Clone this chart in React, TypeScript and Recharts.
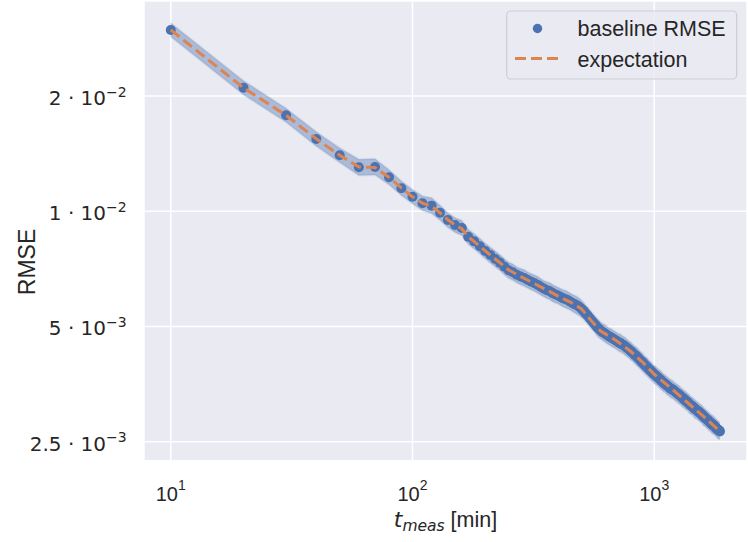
import { ComposedChart, Area, Scatter, Line, XAxis, YAxis, CartesianGrid, Label } from 'recharts';

// measurement times [min]
const times = [
  10, 20, 30, 40, 50, 60, 70, 80, 90, 100,
  110, 120, 130, 140, 150, 160, 170, 180, 190, 200,
  210, 220, 230, 240, 250, 260, 270, 280, 290, 300,
  310, 320, 330, 340, 350, 360, 370, 380, 390, 400,
  410, 420, 430, 440, 450, 460, 470, 480, 490, 500,
  510, 520, 530, 540, 550, 560, 570, 580, 590, 600,
  610, 620, 630, 640, 650, 660, 670, 680, 690, 700,
  710, 720, 730, 740, 750, 760, 770, 780, 790, 800,
  810, 820, 830, 840, 850, 860, 870, 880, 890, 900,
  910, 920, 930, 940, 950, 960, 970, 980, 990, 1000,
  1010, 1020, 1030, 1040, 1050, 1060, 1070, 1080, 1090, 1100,
  1110, 1120, 1130, 1140, 1150, 1160, 1170, 1180, 1190, 1200,
  1210, 1220, 1230, 1240, 1250, 1260, 1270, 1280, 1290, 1300,
  1310, 1320, 1330, 1340, 1350, 1360, 1370, 1380, 1390, 1400,
  1410, 1420, 1430, 1440, 1450, 1460, 1470, 1480, 1490, 1500,
  1510, 1520, 1530, 1540, 1550, 1560, 1570, 1580, 1590, 1600,
  1610, 1620, 1630, 1640, 1650, 1660, 1670, 1680, 1690, 1700,
  1710, 1720, 1730, 1740, 1750, 1760, 1770, 1780, 1790, 1800,
  1810, 1820, 1830, 1840, 1850, 1860, 1870,
];

const baselineRmse = [
  0.02975, 0.02102, 0.01781, 0.01544, 0.014, 0.01302, 0.01305, 0.01226, 0.01148, 0.01091,
  0.01049, 0.01034, 0.00991, 0.00948, 0.0092, 0.00904, 0.00857, 0.00834, 0.0081, 0.00787,
  0.00768, 0.0075, 0.00734, 0.00716, 0.00701, 0.00693, 0.00682, 0.00675, 0.00669, 0.00661,
  0.00654, 0.00648, 0.00642, 0.00634, 0.00627, 0.00622, 0.00618, 0.00611, 0.00606, 0.00602,
  0.00597, 0.00592, 0.00589, 0.00585, 0.0058, 0.00575, 0.00571, 0.00567, 0.00562, 0.00556,
  0.00549, 0.00541, 0.00534, 0.00526, 0.00519, 0.00512, 0.00505, 0.00498, 0.00493, 0.00488,
  0.00484, 0.00481, 0.00478, 0.00474, 0.00471, 0.00469, 0.00466, 0.00463, 0.00461, 0.00458,
  0.00455, 0.00453, 0.00451, 0.00448, 0.00446, 0.00443, 0.0044, 0.00437, 0.00434, 0.00431,
  0.00428, 0.00425, 0.00422, 0.00419, 0.00416, 0.00413, 0.0041, 0.00407, 0.00404, 0.00401,
  0.00398, 0.00395, 0.00393, 0.0039, 0.00387, 0.00385, 0.00382, 0.0038, 0.00377, 0.00375,
  0.00373, 0.00371, 0.00369, 0.00367, 0.00365, 0.00363, 0.00361, 0.00359, 0.00357, 0.00355,
  0.00354, 0.00352, 0.0035, 0.00349, 0.00347, 0.00346, 0.00344, 0.00343, 0.00342, 0.00341,
  0.00339, 0.00338, 0.00336, 0.00335, 0.00334, 0.00332, 0.00331, 0.0033, 0.00328, 0.00327,
  0.00325, 0.00324, 0.00323, 0.00321, 0.0032, 0.00319, 0.00318, 0.00316, 0.00315, 0.00313,
  0.00312, 0.00311, 0.0031, 0.00309, 0.00308, 0.00306, 0.00305, 0.00304, 0.00303, 0.00302,
  0.00301, 0.003, 0.00299, 0.00298, 0.00297, 0.00296, 0.00295, 0.00294, 0.00292, 0.00291,
  0.0029, 0.00289, 0.00288, 0.00287, 0.00286, 0.00285, 0.00284, 0.00283, 0.00282, 0.00281,
  0.0028, 0.00279, 0.00278, 0.00277, 0.00277, 0.00276, 0.00275, 0.00274, 0.00273, 0.00272,
  0.00271, 0.0027, 0.00269, 0.00268, 0.00268, 0.00267, 0.00266,
];

// relative half-width of the shaded spread around each point
const bandSpread = [
  0.042, 0.043, 0.043, 0.044, 0.045, 0.05, 0.05, 0.046, 0.044, 0.044,
  0.045, 0.048, 0.046, 0.045, 0.045, 0.046, 0.046, 0.047, 0.047, 0.048,
  0.048, 0.049, 0.048, 0.049, 0.05, 0.05, 0.049, 0.05, 0.051, 0.05,
  0.05, 0.051, 0.052, 0.051, 0.05, 0.051, 0.052, 0.053, 0.052, 0.051,
  0.052, 0.053, 0.054, 0.053, 0.052, 0.053, 0.054, 0.055, 0.054, 0.053,
  0.052, 0.051, 0.052, 0.053, 0.052, 0.051, 0.052, 0.053, 0.054, 0.053,
  0.052, 0.053, 0.054, 0.053, 0.052, 0.053, 0.054, 0.053, 0.052, 0.053,
  0.054, 0.055, 0.054, 0.053, 0.054, 0.055, 0.054, 0.053, 0.054, 0.055,
  0.054, 0.053, 0.054, 0.055, 0.056, 0.055, 0.054, 0.055, 0.056, 0.055,
  0.054, 0.055, 0.056, 0.055, 0.054, 0.055, 0.056, 0.055, 0.054, 0.055,
  0.056, 0.055, 0.054, 0.055, 0.056, 0.057, 0.056, 0.055, 0.056, 0.055,
  0.054, 0.055, 0.056, 0.055, 0.054, 0.055, 0.056, 0.057, 0.056, 0.055,
  0.054, 0.055, 0.056, 0.055, 0.056, 0.057, 0.056, 0.055, 0.054, 0.055,
  0.056, 0.055, 0.054, 0.055, 0.056, 0.055, 0.054, 0.055, 0.056, 0.057,
  0.056, 0.055, 0.054, 0.055, 0.056, 0.055, 0.056, 0.057, 0.056, 0.055,
  0.054, 0.055, 0.056, 0.055, 0.054, 0.055, 0.056, 0.055, 0.056, 0.057,
  0.056, 0.055, 0.054, 0.055, 0.056, 0.055, 0.054, 0.055, 0.056, 0.055,
  0.054, 0.055, 0.056, 0.057, 0.056, 0.055, 0.054, 0.055, 0.056, 0.055,
  0.054, 0.055, 0.056, 0.055, 0.054, 0.053, 0.052,
];

const expectationTimes = [
  10, 20, 30, 40, 50, 60, 70, 80, 90, 100, 110, 120, 130, 140, 150, 160, 170, 180, 190, 200,
  250, 300, 350, 400, 450, 500, 550, 600, 650, 700, 800, 900, 1000, 1200, 1400, 1600, 1800, 1870,
];
const expectation = [
  0.02975, 0.021, 0.0178, 0.01545, 0.014, 0.01305, 0.013, 0.01225, 0.0115, 0.0109,
  0.0105, 0.0103, 0.0099, 0.0095, 0.0092, 0.009, 0.00858, 0.00833, 0.0081, 0.00788,
  0.00702, 0.0066, 0.00628, 0.006, 0.00579, 0.00556, 0.00517, 0.00486, 0.00472, 0.00458,
  0.0043, 0.00402, 0.00375, 0.00341, 0.00313, 0.00291, 0.00272, 0.00266,
];

const xTicks = [10, 100, 1000];
const xTickExponents = ['1', '2', '3'];
const yTicks = [0.0025, 0.005, 0.01, 0.02];
const yTickMantissas = ['2.5', '5', '1', '2'];
const yTickExponents = ['\u22123', '\u22123', '\u22122', '\u22122'];

const rows = times.map((t, i) => ({
  t,
  rmse: baselineRmse[i],
  band: [baselineRmse[i] / (1 + bandSpread[i]), baselineRmse[i] * (1 + bandSpread[i])],
}));
const expectationRows = expectationTimes.map((t, i) => ({ t, expectation: expectation[i] }));

const BLUE = '#4C72B0';
const ORANGE = '#DD8452';
const TEXT = '#262626';

const XTick = ({ x, y, payload }: any) => {
  const i = xTicks.findIndex((v) => v === payload.value);
  return (
    <text x={x} y={y + 40} textAnchor="middle" fontFamily="Liberation Sans" fontSize={20} fill={TEXT}>
      10
      <tspan fontSize={14} dy={-11}>{xTickExponents[i]}</tspan>
    </text>
  );
};

const YTick = ({ x, y, payload }: any) => {
  const i = yTicks.findIndex((v) => Math.abs(v - payload.value) < 1e-9);
  return (
    <text x={x - 17.3} y={y + 9} textAnchor="end" fontFamily="DejaVu Sans" fontSize={20} fill={TEXT}>
      {`${yTickMantissas[i]} \u00b7 10`}
      <tspan fontSize={14} dy={-8.3}>{yTickExponents[i]}</tspan>
    </text>
  );
};

const XAxisLabel = ({ viewBox }: any) => (
  <text x={viewBox.x + viewBox.width / 2} y={viewBox.y + 65.8} textAnchor="middle" fill={TEXT}>
    <tspan fontFamily="DejaVu Sans" fontStyle="italic" fontSize={22}>t</tspan>
    <tspan fontFamily="DejaVu Sans" fontStyle="italic" fontSize={15.5} dy={4}>meas</tspan>
    <tspan fontFamily="Liberation Sans" fontSize={21.5} dy={-4}> [min]</tspan>
  </text>
);

const YAxisLabel = ({ viewBox }: any) => {
  const x = viewBox.x + 35;
  const y = viewBox.y + 261;
  return (
    <text x={x} y={y} textAnchor="middle" transform={`rotate(-90, ${x}, ${y})`} fontFamily="Liberation Sans" fontSize={23} fill={TEXT}>
      RMSE
    </text>
  );
};

const Marker = ({ cx, cy }: any) => <circle cx={cx} cy={cy} r={5} fill={BLUE} />;

function LegendBox() {
  return (
    <svg width={748} height={542} style={{ position: 'absolute', left: 0, top: 0, pointerEvents: 'none' }}>
      <rect x={506.7} y={11} width={230} height={68} rx={4} fill="#EAEAF2" fillOpacity={0.8} stroke="#CDCDD4" strokeWidth={1.2} />
      <circle cx={537.5} cy={28.5} r={4.7} fill={BLUE} />
      <text x={577.5} y={35.8} fontFamily="Liberation Sans" fontSize={21.5} fill={TEXT}>baseline RMSE</text>
      <line x1={515} y1={58.5} x2={560} y2={58.5} stroke={ORANGE} strokeWidth={3} strokeDasharray="11 5" />
      <text x={577.5} y={66.6} fontFamily="Liberation Sans" fontSize={21.5} fill={TEXT}>expectation</text>
    </svg>
  );
}

export default function App() {
  return (
    <div style={{ position: 'absolute', left: 0, top: 0, width: 748, height: 542, background: '#fff' }}>
      <ComposedChart width={748} height={542} data={rows} margin={{ top: 1, right: 1, left: 0, bottom: 0 }}>
        <CartesianGrid fill="#EAEAF2" fillOpacity={1} stroke="#FFFFFF" strokeWidth={1.5} />
        <XAxis
          dataKey="t"
          type="number"
          scale="log"
          domain={[7.75, 2420]}
          allowDataOverflow
          ticks={xTicks}
          interval={0}
          tick={<XTick />}
          tickLine={false}
          axisLine={false}
          tickSize={0}
          tickMargin={0}
          height={81.3}
        >
          <Label content={<XAxisLabel />} />
        </XAxis>
        <YAxis
          type="number"
          scale="log"
          domain={[0.00223, 0.0354]}
          allowDataOverflow
          ticks={yTicks}
          interval={0}
          tick={<YTick />}
          tickLine={false}
          axisLine={false}
          tickSize={0}
          tickMargin={0}
          width={144}
        >
          <Label content={<YAxisLabel />} />
        </YAxis>
        <Area
          dataKey="band"
          type="linear"
          fill={BLUE}
          fillOpacity={0.4}
          stroke={BLUE}
          strokeOpacity={0.12}
          strokeWidth={2}
          isAnimationActive={false}
        />
        <Scatter dataKey="rmse" fill={BLUE} shape={<Marker />} zIndex={500} isAnimationActive={false} />
        <Line
          data={expectationRows}
          dataKey="expectation"
          type="linear"
          stroke={ORANGE}
          strokeWidth={3}
          strokeDasharray="11 5"
          dot={false}
          activeDot={false}
          zIndex={900}
          isAnimationActive={false}
        />
      </ComposedChart>
      <LegendBox />
    </div>
  );
}
